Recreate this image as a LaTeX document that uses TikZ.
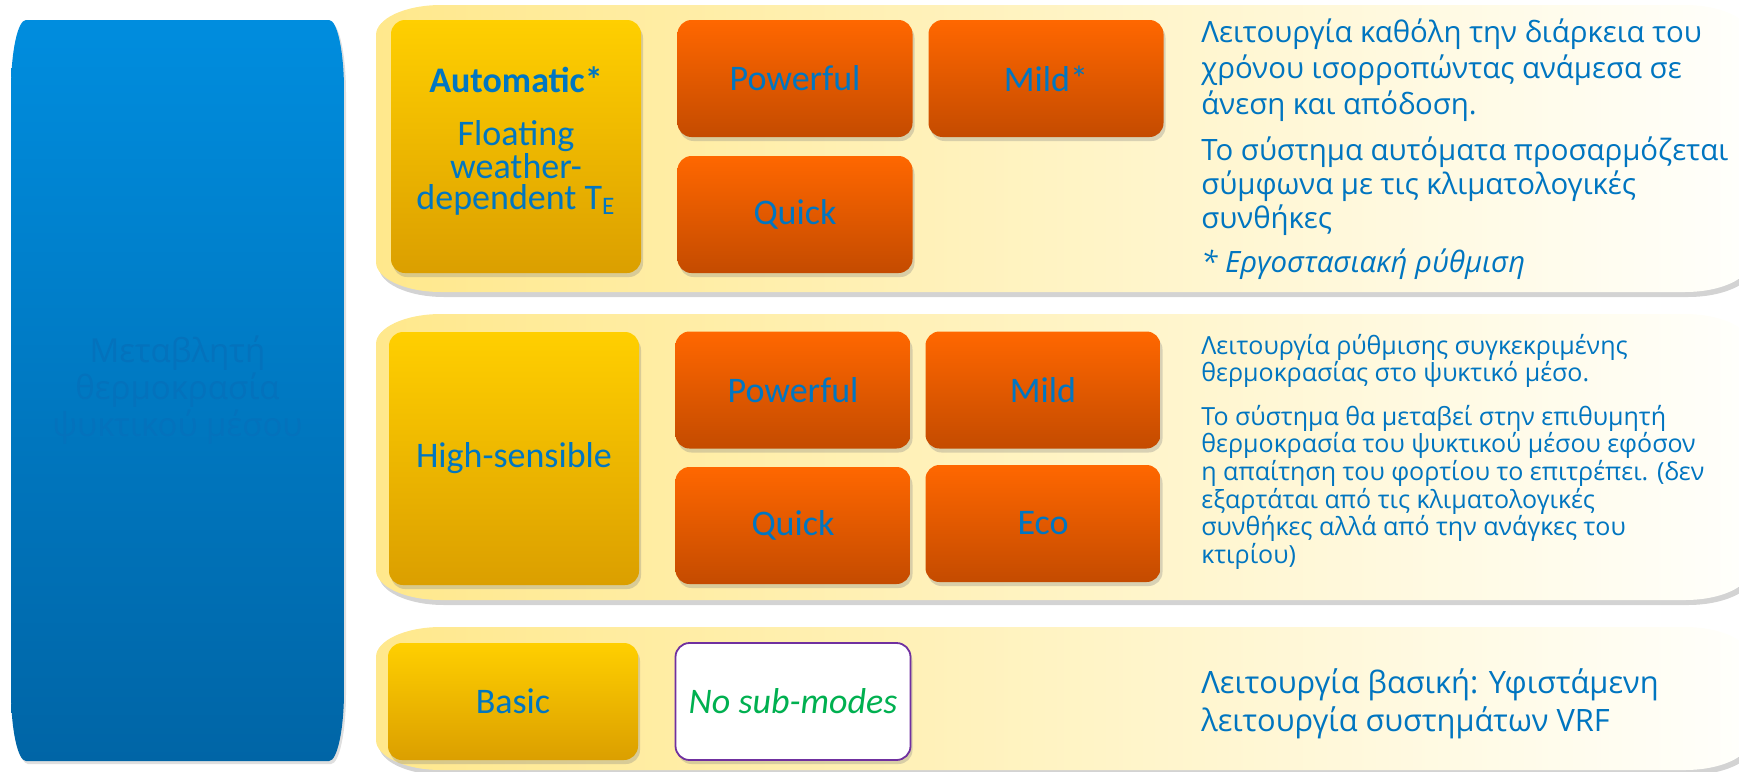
\documentclass[tikz,border=0pt]{standalone}
\usepackage{fontspec}
\setmainfont{Open Sans}
\newfontfamily\boxfont{Carlito}
\usetikzlibrary{shadows}
\definecolor{blueT}{RGB}{0,141,222}
\definecolor{blueB}{RGB}{0,101,166}
\definecolor{blueTxt}{RGB}{4,114,188}
\definecolor{panelL}{RGB}{255,232,140}
\definecolor{panelR}{RGB}{255,255,252}
\definecolor{yelT}{RGB}{255,207,0}
\definecolor{yelB}{RGB}{219,159,0}
\definecolor{orT}{RGB}{255,103,0}
\definecolor{orB}{RGB}{196,75,0}
\definecolor{lblue}{RGB}{0,118,194}
\definecolor{dblue}{RGB}{0,117,192}
\definecolor{subgreen}{RGB}{0,176,80}
\definecolor{subpurple}{RGB}{112,48,160}
\tikzset{
  panelfill/.style={left color=panelL, right color=panelR,
    drop shadow={shadow xshift=1.5pt, shadow yshift=-2.5pt, opacity=0.35}},
  basebox/.style={rectangle, rounded corners=7pt, inner sep=2pt, align=center,
    text=lblue, font=\boxfont\fontsize{18}{15.5}\selectfont,
    drop shadow={shadow xshift=1pt, shadow yshift=-2pt, opacity=0.3}},
  modebox/.style={basebox, top color=yelT, bottom color=yelB, minimum width=125pt},
  subbox/.style={basebox, top color=orT, bottom color=orB,
    minimum width=117.5pt, minimum height=58.5pt},
  nosubbox/.style={basebox, fill=white, draw=subpurple, line width=0.9pt,
    minimum width=117.5pt, minimum height=58.5pt, text=subgreen,
    font=\boxfont\itshape\fontsize{18}{19.5}\selectfont},
  boxlabel/.style={align=center, inner sep=0pt, text=lblue,
    font=\boxfont\fontsize{18}{15.5}\selectfont},
  desc/.style={anchor=base west, inner sep=0pt, text=dblue,
    font=\fontsize{14.7}{18}\selectfont},
  desctight/.style={desc, font=\fontsize{12.5}{12.6}\selectfont},
  descloose/.style={desc, font=\fontsize{15.4}{19}\selectfont},
  bigtext/.style={anchor=base, inner sep=0pt, text=blueTxt,
    font=\fontsize{16.5}{18}\selectfont}
}
\begin{document}
\begin{tikzpicture}[x=0.5pt, y=-0.5pt]
\useasboundingbox (0,0) rectangle (1739,771);
\clip (0,0) rectangle (1739,771);

% left blue column
\path[top color=blueT, bottom color=blueB,
  drop shadow={shadow xshift=1pt, shadow yshift=-1.5pt, opacity=0.25}]
  (11,90) .. controls (11,51.5) and (17.75,20) .. (26,20) -- (329,20)
  .. controls (337.25,20) and (344,51.5) .. (344,90) -- (344,691)
  .. controls (344,729.5) and (337.25,761) .. (329,761) -- (26,761)
  .. controls (17.75,761) and (11,729.5) .. (11,691) -- cycle;
\node[bigtext] (var) at (177.5,362)
  {\begin{tabular}[t]{@{}c@{}}Μεταβλητή\\θερμοκρασία\\ψυκτικού μέσου\end{tabular}};

% row panels
\path[panelfill]
  (376,35) .. controls (376,18.5) and (405.25,5) .. (441,5) -- (1685,5)
  .. controls (1720.75,5) and (1750,18.5) .. (1750,35) -- (1750,262)
  .. controls (1750,278.5) and (1720.75,292) .. (1685,292) -- (441,292)
  .. controls (405.25,292) and (376,278.5) .. (376,262) -- cycle;
\path[panelfill]
  (376,344) .. controls (376,327.5) and (405.25,314) .. (441,314) -- (1685,314)
  .. controls (1720.75,314) and (1750,327.5) .. (1750,344) -- (1750,570)
  .. controls (1750,586.5) and (1720.75,600) .. (1685,600) -- (441,600)
  .. controls (405.25,600) and (376,586.5) .. (376,570) -- cycle;
\path[panelfill]
  (376,657) .. controls (376,640.5) and (405.25,627) .. (441,627) -- (1685,627)
  .. controls (1720.75,627) and (1750,640.5) .. (1750,657) -- (1750,740)
  .. controls (1750,756.5) and (1720.75,770) .. (1685,770) -- (441,770)
  .. controls (405.25,770) and (376,756.5) .. (376,740) -- cycle;

% row 1
\node[modebox, minimum height=126.5pt] (auto) at (516,146.5) {};
\node[boxlabel] (autotxt) at (516,141)
  {\textbf{Automatic*}\\[10.7pt]Floating\\weather-\\dependent T\textsubscript{E}};
\node[subbox] (pow1) at (795,78.5) {Powerful};
\node[subbox] (mild1) at (1046,78.5) {Mild*};
\node[subbox] (quick1) at (795,214.5) {Quick};
\node[desc] (d1a) at (1201,42) {\begin{tabular}[t]{@{}l@{}}Λειτουργία καθόλη την διάρκεια του\\χρόνου ισορροπώντας ανάμεσα σε\\άνεση και απόδοση.\end{tabular}};
\node[desc, font=\fontsize{14.7}{17}\selectfont] (d1b) at (1201,160) {\begin{tabular}[t]{@{}l@{}}Το σύστημα αυτόματα προσαρμόζεται\\σύμφωνα με τις κλιματολογικές\\συνθήκες\end{tabular}};
\node[desc, font=\fontsize{14.7}{17}\selectfont\itshape] (d1c) at (1201,272) {* Εργοστασιακή ρύθμιση};

% row 2
\node[modebox, minimum height=126.5pt] (high) at (514,458.5) {High-sensible};
\node[subbox] (pow2) at (793,390) {Powerful};
\node[subbox] (mild2) at (1043,390) {Mild};
\node[subbox] (quick2) at (793,525.5) {Quick};
\node[subbox] (eco2) at (1043,523.5) {Eco};
\node[desctight] (d2a) at (1201,354) {\begin{tabular}[t]{@{}l@{}}Λειτουργία ρύθμισης συγκεκριμένης\\θερμοκρασίας στο ψυκτικό μέσο.\end{tabular}};
\node[desctight] (d2b) at (1201,425) {\begin{tabular}[t]{@{}l@{}}Το σύστημα θα μεταβεί στην επιθυμητή\\θερμοκρασία του ψυκτικού μέσου εφόσον\\η απαίτηση του φορτίου το επιτρέπει. (δεν\\εξαρτάται από τις κλιματολογικές\\συνθήκες αλλά από την ανάγκες του\\κτιρίου)\end{tabular}};

% row 3
\node[modebox, minimum height=58.5pt] (basic) at (513,701.5) {Basic};
\node[nosubbox] (nosub) at (793,701.5) {No sub-modes};
\node[descloose] (d3) at (1201,693) {\begin{tabular}[t]{@{}l@{}}Λειτουργία βασική: Υφιστάμενη\\λειτουργία συστημάτων VRF\end{tabular}};
\end{tikzpicture}
\end{document}
